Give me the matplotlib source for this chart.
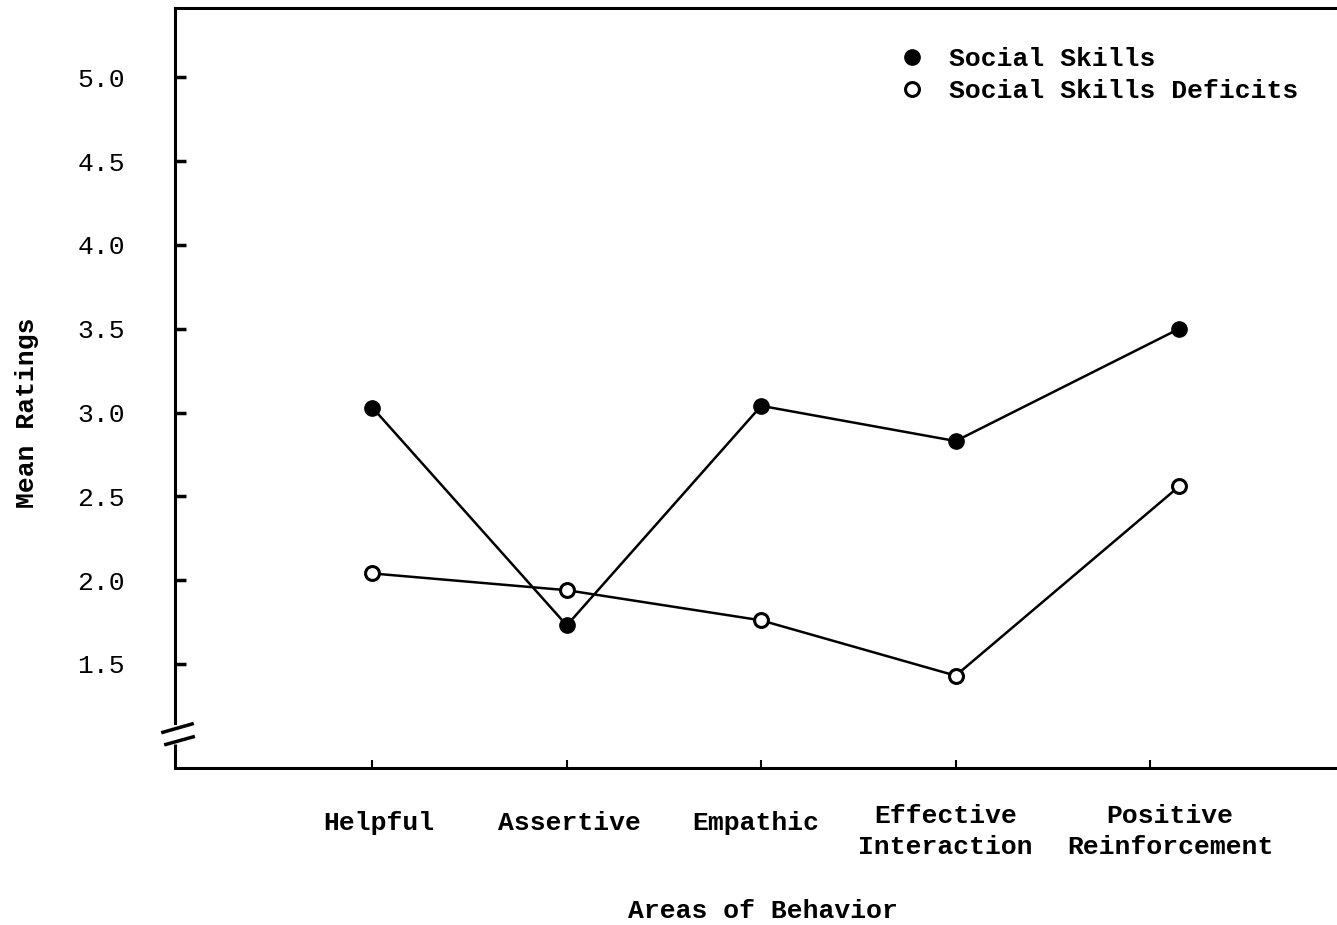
import matplotlib.pyplot as plt
import matplotlib.transforms as mtransforms

categories = ["Helpful", "Assertive", "Empathic", "Effective\nInteraction", "Positive\nReinforcement"]
tick_pos = [0, 1, 2, 3, 4]
# the last pair of points sits a little right of its tick in the original
point_x = [0, 1, 2, 3, 4.15]
social_skills = [3.03, 1.73, 3.04, 2.83, 3.50]
skills_deficits = [2.04, 1.94, 1.76, 1.43, 2.56]
yticks = [1.5, 2.0, 2.5, 3.0, 3.5, 4.0, 4.5, 5.0]

plt.rcParams['font.family'] = ['Liberation Mono', 'DejaVu Sans Mono']
fs = 19

fig = plt.figure(figsize=(13.37, 9.25), dpi=100)
ax = fig.add_axes([175 / 1337, 1 - 768 / 925, 1 - 175 / 1337 + 0.01, 760 / 925])

ax.plot(point_x, social_skills, color='black', lw=1.8, marker='o', ms=11,
        mfc='black', mec='black', label='Social Skills')
ax.plot(point_x, skills_deficits, color='black', lw=1.8, marker='o', ms=10,
        mfc='white', mec='black', mew=2.2, label='Social Skills Deficits')

ax.set_xlim(-1.015, 5.03)
ax.set_ylim(0.879, 5.414)

ax.set_xticks(tick_pos)
ax.set_xticklabels(categories, fontsize=fs, fontweight='bold', linespacing=1.37)
ax.set_yticks(yticks)
ax.set_yticklabels([f"{v:.1f}" for v in yticks], fontsize=fs)
ax.tick_params(axis='y', direction='in', length=8, width=2.5, pad=36)
ax.tick_params(axis='x', direction='in', length=6, width=1.5, pad=26)

# nudge the category labels to where the typist put them
x_shift = [6, 3, -5, -10, 20]
for lab, dx in zip(ax.get_xticklabels(), x_shift):
    dy = 0 if '\n' in lab.get_text() else -7
    lab.set_transform(lab.get_transform() +
                      mtransforms.ScaledTranslation(dx / 100, dy / 100, fig.dpi_scale_trans))

ax.set_xlabel("Areas of Behavior", fontsize=fs, fontweight='bold', va='center')
ax.xaxis.set_label_coords(0.5, (768 - 911) / 760)
ax.set_ylabel("Mean Ratings", fontsize=fs, fontweight='bold')
ax.yaxis.set_label_coords(-0.116, 0.467)

for s in ['top', 'bottom']:
    ax.spines[s].set_linewidth(2.2)
ax.spines['right'].set_visible(False)
ax.spines['left'].set_linewidth(2.2)
ax.spines['left'].set_bounds(1.15, 5.414)
# lower piece of the broken axis and the break marks
ax.plot([0, 0], [0, 0.032], transform=ax.transAxes, color='black', lw=2.2,
        clip_on=False, solid_capstyle='butt')
ax.plot([-0.0103, 0.0146], [0.047, 0.058], transform=ax.transAxes, color='black',
        lw=2.5, clip_on=False)
ax.plot([-0.0078, 0.0155], [0.031, 0.041], transform=ax.transAxes, color='black',
        lw=2.5, clip_on=False)

ax.legend(loc='upper left', bbox_to_anchor=(904 / 1337, 1 - 47 / 925),
          bbox_transform=fig.transFigure, frameon=False,
          prop={'size': fs, 'weight': 'bold'},
          handlelength=0.6, handletextpad=1.1, labelspacing=0.32,
          borderaxespad=0, borderpad=0)
leg = ax.get_legend()
for line in leg.get_lines():
    line.set_linestyle('none')

fig.savefig('out.png', dpi=100)
